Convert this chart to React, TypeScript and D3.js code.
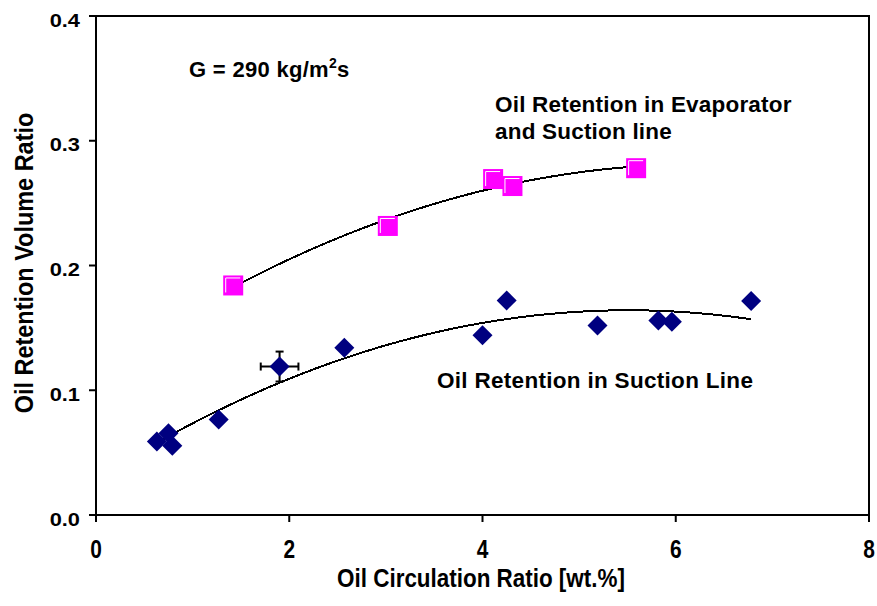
import React from "react";
import * as d3 from "d3";

// Oil retention in the suction line (blue diamonds)
const suctionX = [0.63, 0.75, 0.79, 1.27, 1.9, 2.57, 4.0, 4.25, 5.19, 5.82, 5.96, 6.78];
const suctionY = [0.059, 0.0655, 0.0555, 0.0765, 0.119, 0.134, 0.144, 0.172, 0.152, 0.156, 0.155, 0.1715];

// Error bars on the one repeated measurement
const errX = [1.9];
const errY = [0.119];
const errXPlus = [0.195];
const errYPlus = [0.012];

// Oil retention in evaporator and suction line (magenta squares)
const evapX = [1.42, 3.02, 4.11, 4.31, 5.59];
const evapY = [0.184, 0.2317, 0.2693, 0.2637, 0.278];

const xTicks = [0, 2, 4, 6, 8];
const yTicks = [0, 0.1, 0.2, 0.3, 0.4];

const W = 877;
const H = 606;
const plot = { left: 96, right: 869, top: 16, bottom: 515 };

const x = d3.scaleLinear().domain([0, 8]).range([plot.left, plot.right]);
const y = d3.scaleLinear().domain([0, 0.4]).range([plot.bottom, plot.top]);

// Least-squares second-order polynomial trendline
function quadFit(xs: number[], ys: number[]) {
  const n = xs.length;
  let s1 = 0, s2 = 0, s3 = 0, s4 = 0, t0 = 0, t1 = 0, t2 = 0;
  for (let i = 0; i < n; i++) {
    const a = xs[i], b = ys[i];
    s1 += a; s2 += a * a; s3 += a * a * a; s4 += a * a * a * a;
    t0 += b; t1 += a * b; t2 += a * a * b;
  }
  const M = [
    [n, s1, s2, t0],
    [s1, s2, s3, t1],
    [s2, s3, s4, t2],
  ];
  for (let c = 0; c < 3; c++) {
    for (let r = c + 1; r < 3; r++) {
      const f = M[r][c] / M[c][c];
      for (let k = c; k < 4; k++) M[r][k] -= f * M[c][k];
    }
  }
  const coef = [0, 0, 0];
  for (let r = 2; r >= 0; r--) {
    let s = M[r][3];
    for (let k = r + 1; k < 3; k++) s -= M[r][k] * coef[k];
    coef[r] = s / M[r][r];
  }
  return (v: number) => coef[0] + coef[1] * v + coef[2] * v * v;
}

function trendPath(xs: number[], ys: number[]) {
  const f = quadFit(xs, ys);
  const x0 = d3.min(xs)!;
  const x1 = d3.max(xs)!;
  const pts = d3.range(0, 81).map((i) => {
    const v = x0 + ((x1 - x0) * i) / 80;
    return [x(v), y(f(v))] as [number, number];
  });
  return d3.line()(pts) || "";
}

const font = "'Liberation Sans', Arial, sans-serif";
const navy = "#000080";
const magenta = "#FF00FF";

export default function App() {
  const sq = 20;
  const dm = 10;
  return (
    <svg
      width={W}
      height={H}
      style={{ position: "absolute", left: 0, top: 0, background: "#fff" }}
      fontFamily={font}
      fontWeight="bold"
    >
      <rect x={0} y={0} width={W} height={H} fill="#fff" />
      {/* plot frame */}
      <rect
        x={plot.left}
        y={plot.top}
        width={plot.right - plot.left}
        height={plot.bottom - plot.top}
        fill="none"
        stroke="#000"
        strokeWidth={2}
      />
      {/* y ticks */}
      {yTicks.map((t) => (
        <g key={"y" + t}>
          <line x1={plot.left - 7} x2={plot.left} y1={y(t)} y2={y(t)} stroke="#000" strokeWidth={2} />
          <text
            transform={`translate(80,${y(t) + 10.5}) scale(1.18,1)`}
            textAnchor="end"
            fontSize={18.5}
          >
            {t.toFixed(1)}
          </text>
        </g>
      ))}
      {/* x ticks */}
      {xTicks.map((t) => (
        <g key={"x" + t}>
          <line x1={x(t)} x2={x(t)} y1={plot.bottom} y2={plot.bottom + 7} stroke="#000" strokeWidth={2} />
          <text
            transform={`translate(${x(t)},558) scale(0.82,1)`}
            textAnchor="middle"
            fontSize={25.5}
          >
            {t}
          </text>
        </g>
      ))}
      {/* axis titles */}
      <text transform={`translate(481,587) scale(0.88,1)`} textAnchor="middle" fontSize={25.5}>
        Oil Circulation Ratio [wt.%]
      </text>
      <text transform={`translate(33,263) rotate(-90) scale(0.92,1)`} textAnchor="middle" fontSize={25.5}>
        Oil Retention Volume Ratio
      </text>

      {/* trendlines */}
      <path d={trendPath(evapX, evapY)} fill="none" stroke="#000" strokeWidth={2} shapeRendering="crispEdges" />
      <path d={trendPath(suctionX, suctionY)} fill="none" stroke="#000" strokeWidth={2} shapeRendering="crispEdges" />

      {/* error bars */}
      {errX.map((ex, i) => {
        const cx = x(ex), cy = y(errY[i]);
        const xl = x(ex - errXPlus[i]), xr = x(ex + errXPlus[i]);
        const yt = y(errY[i] + errYPlus[i]), yb = y(errY[i] - errYPlus[i]);
        return (
          <g key={"e" + i} stroke="#000" strokeWidth={2}>
            <line x1={xl} x2={xr} y1={cy} y2={cy} />
            <line x1={xl} x2={xl} y1={cy - 4} y2={cy + 4} />
            <line x1={xr} x2={xr} y1={cy - 4} y2={cy + 4} />
            <line x1={cx} x2={cx} y1={yt} y2={yb} />
            <line x1={cx - 4} x2={cx + 4} y1={yt} y2={yt} />
            <line x1={cx - 4} x2={cx + 4} y1={yb} y2={yb} />
          </g>
        );
      })}

      {/* suction line points */}
      {suctionX.map((v, i) => {
        const cx = x(v), cy = y(suctionY[i]);
        return (
          <path
            key={"d" + i}
            d={`M${cx},${cy - dm}L${cx + dm},${cy}L${cx},${cy + dm}L${cx - dm},${cy}Z`}
            fill={navy}
          />
        );
      })}

      {/* evaporator + suction line points */}
      {evapX.map((v, i) => {
        const cx = x(v), cy = y(evapY[i]);
        const x0 = cx - sq / 2, y0 = cy - sq / 2;
        return (
          <g key={"s" + i}>
            <rect x={x0} y={y0} width={sq} height={sq} fill={magenta} />
            <path
              d={`M${x0 + 2.5},${y0 + sq - 3}V${y0 + 2.5}H${x0 + sq - 3}`}
              fill="none"
              stroke="#fff"
              strokeWidth={1}
            />
          </g>
        );
      })}

      {/* annotations */}
      <text x={189} y={77} fontSize={22} letterSpacing={0.3}>
        G = 290 kg/m<tspan dy={-9} fontSize={14}>2</tspan>
        <tspan dy={9}>s</tspan>
      </text>
      <text x={495} y={112} fontSize={22.5} letterSpacing={0.2}>
        Oil Retention in Evaporator
      </text>
      <text x={495} y={139} fontSize={22.5} letterSpacing={0.2}>
        and Suction line
      </text>
      <text x={437} y={388} fontSize={22.5} letterSpacing={0.3}>
        Oil Retention in Suction Line
      </text>
    </svg>
  );
}
